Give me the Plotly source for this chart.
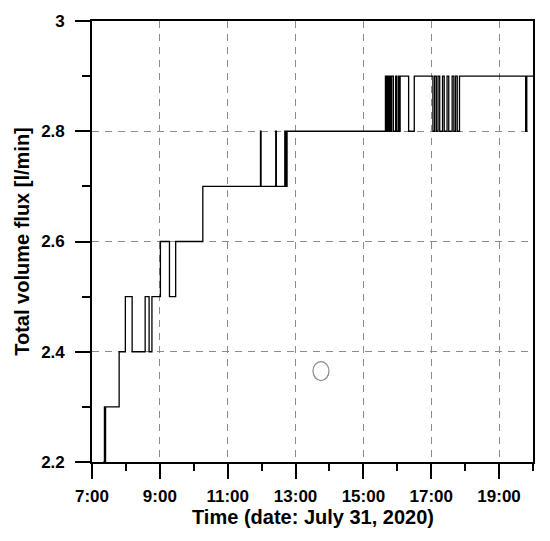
import plotly.graph_objects as go

# Step series: time of each change and the value from that time on
times = [
    "07:20", "07:22", "07:23", "07:24", "07:48", "07:59", "08:11", "08:34", "08:41", "08:46",
    "09:01", "09:17", "09:28", "10:16",
    "11:58", "11:59", "12:25", "12:26", "12:41", "12:43", "12:45",
    "15:39", "15:41", "15:43", "15:45", "15:47", "15:48", "15:50", "15:53", "15:57", "15:59",
    "16:02", "16:03", "16:05", "16:20", "16:30",
    "17:03", "17:06", "17:09", "17:12", "17:15", "17:20", "17:23", "17:28", "17:31", "17:37",
    "17:40", "17:43", "17:46", "17:50",
    "19:47", "19:49", "20:00",
]
flux = [
    2.2, 2.3, 2.2, 2.3, 2.4, 2.5, 2.4, 2.5, 2.4, 2.5,
    2.6, 2.5, 2.6, 2.7,
    2.8, 2.7, 2.8, 2.7, 2.8, 2.7, 2.8,
    2.9, 2.8, 2.9, 2.8, 2.9, 2.8, 2.9, 2.8, 2.9, 2.8,
    2.9, 2.8, 2.9, 2.8, 2.9,
    2.8, 2.9, 2.8, 2.9, 2.8, 2.9, 2.8, 2.9, 2.8, 2.9,
    2.8, 2.9, 2.8, 2.9,
    2.8, 2.9, 2.9,
]
date = "2020-07-31"
x_ticks = ["07:00", "09:00", "11:00", "13:00", "15:00", "17:00", "19:00"]
y_ticks = [2.2, 2.4, 2.6, 2.8, 3.0]
y_tick_labels = ["2.2", "2.4", "2.6", "2.8", "3"]
x_range = ["07:00", "20:00"]
y_range = [2.2, 3.0]
x_title = "Time (date: July 31, 2020)"
y_title = "Total volume flux [l/min]"
# stray ellipse mark in the picture
ellipse_time = "13:45"
ellipse_value = 2.365

xs = [f"{date} {t}" for t in times]

fig = go.Figure()
fig.add_trace(go.Scatter(
    x=xs, y=flux, mode="lines", line=dict(color="black", width=1.3, shape="hv"),
    showlegend=False, hoverinfo="skip",
))

fig.add_shape(
    type="circle", xref="x", yref="y",
    xsizemode="pixel", ysizemode="pixel",
    xanchor=f"{date} {ellipse_time}", yanchor=ellipse_value,
    x0=-8, x1=8, y0=-9.5, y1=9.5,
    line=dict(color="#8a8a8a", width=1.2),
)

tickfont = dict(family="Liberation Sans, Arial, sans-serif", size=17, color="black", weight="bold")
titlefont = dict(family="Liberation Sans, Arial, sans-serif", size=20, color="black", weight="bold")

fig.add_annotation(
    text=x_title, xref="paper", yref="paper", x=0.5, y=0,
    xanchor="center", yanchor="top", yshift=-42, showarrow=False, font=titlefont,
)

fig.update_layout(
    width=542, height=533,
    margin=dict(l=84, r=17, t=13, b=79),
    paper_bgcolor="white", plot_bgcolor="white",
    xaxis=dict(
        type="date", automargin=False,
        range=[f"{date} {x_range[0]}", f"{date} {x_range[1]}"],
        tickmode="array",
        tickvals=[f"{date} {t}" for t in x_ticks],
        ticktext=[t.lstrip("0") for t in x_ticks],
        ticks="outside", ticklen=15, tickwidth=1.5, tickcolor="black",
        minor=dict(ticks="outside", ticklen=7, tickwidth=1.5, tickcolor="black",
                   dtick=3600000, tick0=f"{date} 08:00", showgrid=False),
        showline=True, linecolor="black", linewidth=1.6, mirror=True,
        showgrid=True, gridcolor="#8c8c8c", gridwidth=1, griddash="7px,6px",
        tickfont=tickfont, ticklabelstandoff=3,
        zeroline=False,
    ),
    yaxis=dict(
        range=y_range, automargin=False,
        tickmode="array", tickvals=y_ticks, ticktext=y_tick_labels,
        ticks="outside", ticklen=15, tickwidth=1.5, tickcolor="black",
        minor=dict(ticks="outside", ticklen=8, tickwidth=1.5, tickcolor="black",
                   dtick=0.1, tick0=2.3, showgrid=False),
        showline=True, linecolor="black", linewidth=1.6, mirror=True,
        showgrid=True, gridcolor="#8c8c8c", gridwidth=1, griddash="7px,6px",
        tickfont=tickfont, ticklabelstandoff=7,
        title=dict(text=y_title, font=titlefont, standoff=6),
        zeroline=False,
    ),
)

fig.write_html("out.html")
